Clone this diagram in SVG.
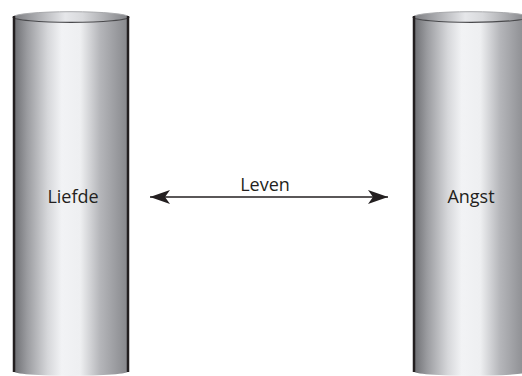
<svg xmlns="http://www.w3.org/2000/svg" width="522" height="376" viewBox="0 0 522 376">
<defs>
<linearGradient id="body" x1="0" y1="0" x2="1" y2="0">
<stop offset="0" stop-color="#6a6b6f"/>
<stop offset="0.12" stop-color="#9a9b9f"/>
<stop offset="0.3" stop-color="#d6d7da"/>
<stop offset="0.42" stop-color="#f2f3f5"/>
<stop offset="0.58" stop-color="#eeeff1"/>
<stop offset="0.75" stop-color="#b5b6ba"/>
<stop offset="1" stop-color="#85868a"/>
</linearGradient>
<linearGradient id="lid" x1="0" y1="0" x2="1" y2="0">
<stop offset="0" stop-color="#7a7b7f"/>
<stop offset="0.45" stop-color="#e6e7ea"/>
<stop offset="0.6" stop-color="#d8d9dc"/>
<stop offset="1" stop-color="#7f8084"/>
</linearGradient>
<marker id="ah" viewBox="0 0 20 14" refX="20" refY="7" markerWidth="20" markerHeight="14" markerUnits="userSpaceOnUse" orient="auto-start-reverse">
<path d="M20,7 L0,0 L5,7 L0,14 Z" fill="#231f20"/>
</marker>
</defs>
<style>
.side{stroke:#231f20;stroke-width:2.5;fill:none}
.rim{fill:none;stroke:#4a4a4d;stroke-width:1.2}
.back{fill:none;stroke:#a9aaad;stroke-width:1}
.lbl{font-family:"Open Sans","Noto Sans",sans-serif;font-size:18px;fill:#231f20;text-anchor:middle}
</style>
<g id="liefde">
<path d="M13,17 L13,371 A58,5 0 0 0 129,371 L129,17 Z" fill="url(#body)"/>
<ellipse cx="71" cy="17" rx="58" ry="5.3" fill="url(#lid)"/>
<path class="back" d="M13,17 A58,5.3 0 0 1 129,17"/>
<path class="rim" d="M13,17 A58,5.3 0 0 0 129,17"/>
<path class="side" d="M14,16 L14,372"/>
<path class="side" d="M128,16 L128,372"/>
<text class="lbl" x="73" y="203">Liefde</text>
</g>
<g id="angst">
<path d="M413,17 L413,371 A58,5 0 0 0 529,371 L529,17 Z" fill="url(#body)"/>
<ellipse cx="471" cy="17" rx="58" ry="5.3" fill="url(#lid)"/>
<path class="back" d="M413,17 A58,5.3 0 0 1 529,17"/>
<path class="rim" d="M413,17 A58,5.3 0 0 0 529,17"/>
<path class="side" d="M414,16 L414,372"/>
<text class="lbl" x="471" y="203">Angst</text>
</g>
<g id="connectors">
<line x1="150" y1="197" x2="388" y2="197" stroke="#231f20" stroke-width="1.5" marker-start="url(#ah)" marker-end="url(#ah)"/>
<text class="lbl" x="265" y="191">Leven</text>
</g>
</svg>
